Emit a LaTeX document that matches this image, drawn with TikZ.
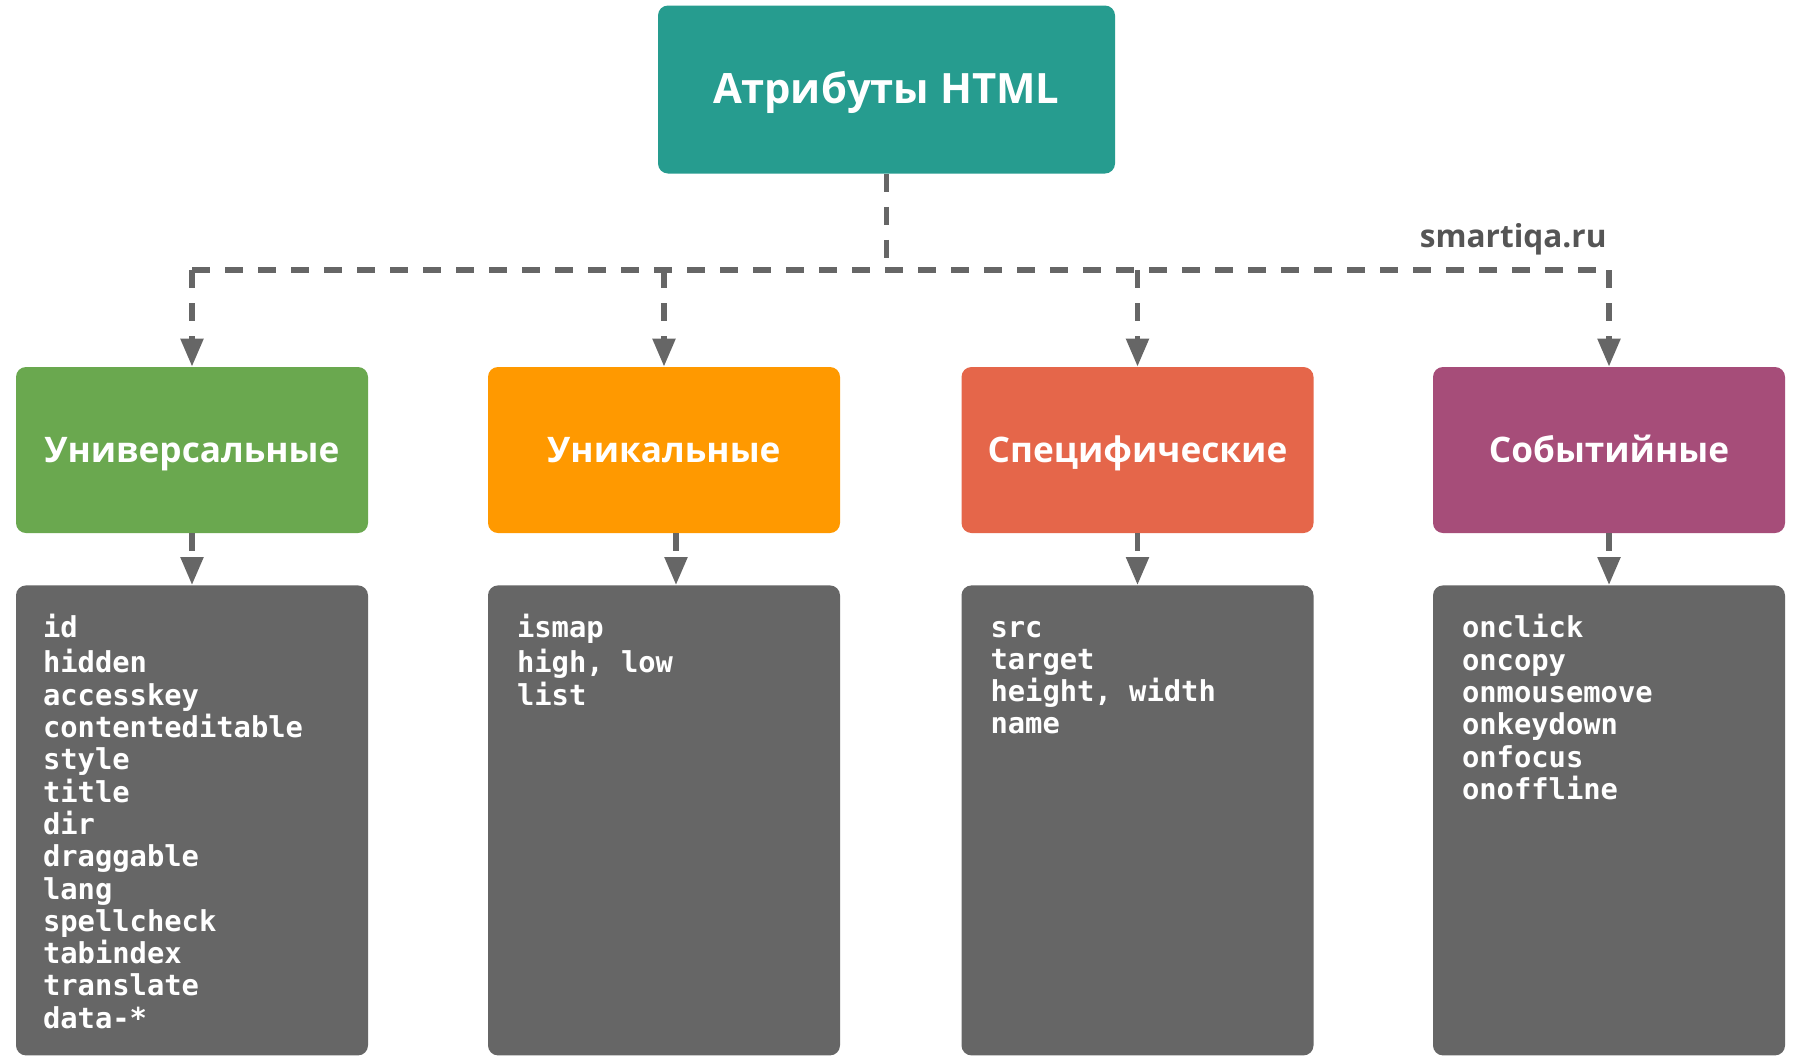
\documentclass[tikz,border=0pt]{standalone}
\usepackage{fontspec}
\setmainfont{Open Sans}
\setmonofont{DejaVu Sans Mono}
\usetikzlibrary{arrows.meta}
\definecolor{attrteal}{RGB}{38,156,143}
\definecolor{attrgreen}{RGB}{106,168,79}
\definecolor{attrorange}{RGB}{255,153,0}
\definecolor{attrred}{RGB}{229,102,74}
\definecolor{attrpurple}{RGB}{166,77,121}
\definecolor{attrgray}{RGB}{102,102,102}
\definecolor{sitegray}{RGB}{85,85,85}

\begin{document}
\begin{tikzpicture}[x=0.5pt, y=-0.5pt,
  catbox/.style={rounded corners=5pt, minimum width=176pt, minimum height=83pt, text=white, text height=14pt, text depth=2pt, font=\fontsize{17.6}{21}\selectfont\bfseries},
  listbox/.style={fill=attrgray, rounded corners=5pt, minimum width=176pt, minimum height=235pt, anchor=north},
  listtext/.style={anchor=north west, inner sep=0pt, align=left, text=white, font=\fontsize{14.4}{16.15}\selectfont\ttfamily\bfseries},
  link/.style={draw=attrgray, line width=2.7pt, dash pattern=on 9pt off 7.5pt},
  linkarrow/.style={link, -{Triangle[length=14pt,width=11pt]}}]
\useasboundingbox[fill=white] (0,0) rectangle (1798,1055);

\node[catbox, fill=attrteal, minimum width=228.5pt, minimum height=84pt, text height=16pt, text depth=2.5pt, font=\fontsize{20.9}{25}\selectfont\bfseries] (root) at (886.5,89.5) {Атрибуты HTML};

\node[catbox, fill=attrgreen] (univ) at (192,450) {Универсальные};
\node[catbox, fill=attrorange] (uniq) at (664,450) {Уникальные};
\node[catbox, fill=attrred] (spec) at (1137.5,450) {Специфические};
\node[catbox, fill=attrpurple] (event) at (1609,450) {Событийные};

\node[listbox] (univlist) at (192,585) {};
\node[listbox] (uniqlist) at (664,585) {};
\node[listbox] (speclist) at (1137.5,585) {};
\node[listbox] (eventlist) at (1609,585) {};

\node[listtext] (univtext) at ([shift={(27,29)}]univlist.north west) {\strut id\\hidden\\accesskey\\contenteditable\\style\\title\\dir\\draggable\\lang\\spellcheck\\tabindex\\translate\\data-*};
\node[listtext] (uniqtext) at ([shift={(29,29)}]uniqlist.north west) {\strut ismap\\high, low\\list};
\node[listtext] (spectext) at ([shift={(29,29)}]speclist.north west) {\strut src\\target\\height, width\\name};
\node[listtext] (eventtext) at ([shift={(29,29)}]eventlist.north west) {\strut onclick\\oncopy\\onmousemove\\onkeydown\\onfocus\\onoffline};

\node[anchor=base east, inner sep=0pt, text=sitegray, font=\fontsize{15.8}{19}\selectfont\bfseries] (site) at (1607,247) {smartiqa.ru};

\coordinate (hub) at (886.5,270);
\coordinate (hubleft) at (192,270);
\coordinate (hubright) at (1609,270);

\draw[link] (root.south) -- (hub);
\draw[link] (hubleft) -- (hubright);
\foreach \cat in {univ, uniq, spec, event}
  \draw[linkarrow] (\cat.north |- hub) -- (\cat.north);

\draw[linkarrow] (univ.south) -- (univlist.north);
\draw[linkarrow] ([xshift=6pt]uniq.south) -- ([xshift=6pt]uniqlist.north);
\draw[linkarrow] (spec.south) -- (speclist.north);
\draw[linkarrow] (event.south) -- (eventlist.north);
\end{tikzpicture}
\end{document}
